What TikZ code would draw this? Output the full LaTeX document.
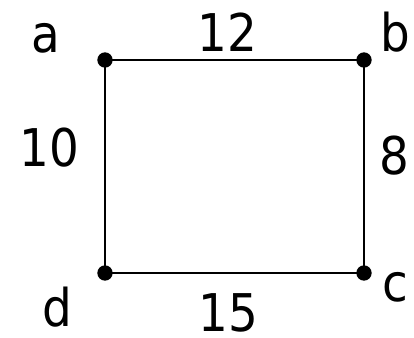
\documentclass[tikz,border=0pt]{standalone}
\usepackage{fontspec}
\setmainfont{DejaVu Sans Condensed}
\usepackage{tikz}
\usetikzlibrary{positioning}

\begin{document}
\begin{tikzpicture}[
        x=0.75pt, y=0.75pt,
        vertex/.style={circle, fill=black, inner sep=0pt, minimum size=11.5pt},
        lbl/.style={anchor=base, inner sep=0pt, text depth=0pt, font=\fontsize{39}{47}\selectfont},
        edge/.style={line width=1.6pt}
      ]
        \useasboundingbox (0,0) rectangle (414,338);
        % corners
        \node[vertex] (a) at (105,278) {};
        \node[vertex] (b) at (364,278) {};
        \node[vertex] (c) at (364,65) {};
        \node[vertex] (d) at (105,65) {};
        \draw[edge] (a.center) -- (b.center) -- (c.center) -- (d.center) -- cycle;
        % names
        \node[lbl] (la) at (46,285) {a};
        \node[lbl] (lb) at (395.5,286) {b};
        \node[lbl] (lc) at (395,36) {c};
        \node[lbl] (ld) at (57.5,11) {d};
        % lengths
        \node[lbl] (ab) at (227.5,286) {12};
        \node[lbl] (bc) at (394.5,163) {8};
        \node[lbl] (cd) at (228.5,6) {15};
        \node[lbl] (da) at (49.5,171) {10};
      \end{tikzpicture}
\end{document}
